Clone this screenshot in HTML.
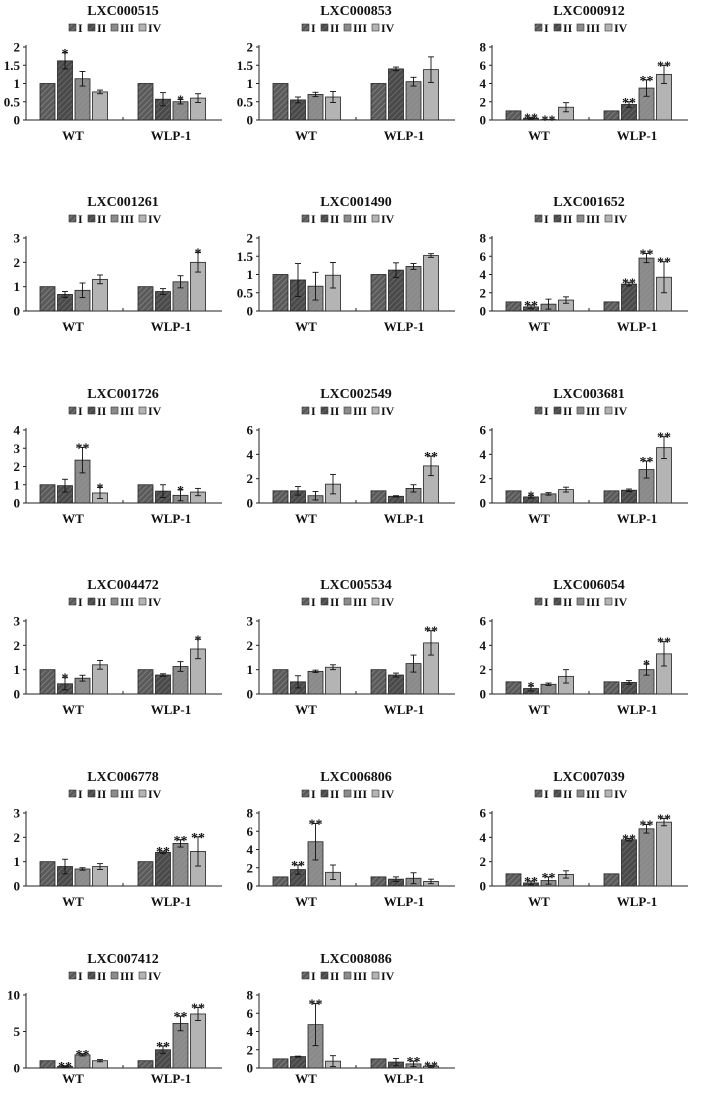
<!DOCTYPE html>
<html><head><meta charset="utf-8"><style>
body{margin:0;background:#fff;width:708px;height:1088px;overflow:hidden}
svg text{font-family:"Liberation Serif",serif;font-weight:bold;fill:#111}
</style></head><body>
<svg id="fig" width="708" height="1088" viewBox="0 0 708 1088">
<defs>
<pattern id="p1" width="4" height="4" patternUnits="userSpaceOnUse" patternTransform="rotate(45)"><rect width="4" height="4" fill="#5a5a5a"/><line x1="0" y1="0" x2="0" y2="4" stroke="#888" stroke-width="1.5"/></pattern>
<pattern id="p2" width="4" height="4" patternUnits="userSpaceOnUse" patternTransform="rotate(45)"><rect width="4" height="4" fill="#4a4a4a"/><line x1="0" y1="0" x2="0" y2="4" stroke="#777" stroke-width="1.2"/></pattern>
<pattern id="p3" width="4" height="4" patternUnits="userSpaceOnUse" patternTransform="rotate(45)"><rect width="4" height="4" fill="#8a8a8a"/><line x1="0" y1="0" x2="0" y2="4" stroke="#999" stroke-width="1"/></pattern>
</defs>
</svg>
<script>
const titles=["LXC000515","LXC000853","LXC000912","LXC001261","LXC001490","LXC001652","LXC001726","LXC002549","LXC003681","LXC004472","LXC005534","LXC006054","LXC006778","LXC006806","LXC007039","LXC007412","LXC008086"];
const yMax=[2,2,8,3,2,8,4,6,6,3,3,6,3,8,6,10,8];
const yStep=[0.5,0.5,2,1,0.5,2,1,2,2,1,1,2,1,2,2,5,2];
const wtVals=[[1,1.62,1.13,0.77],[1,0.55,0.7,0.63],[1,0.2,0.05,1.4],[1,0.68,0.85,1.3],[1,0.85,0.68,0.98],[1,0.45,0.75,1.2],[1,0.95,2.35,0.55],[1,1,0.6,1.55],[1,0.5,0.75,1.1],[1,0.42,0.65,1.2],[1,0.5,0.93,1.1],[1,0.45,0.8,1.45],[1,0.8,0.7,0.8],[1,1.8,4.85,1.5],[1,0.25,0.45,0.95],[1,0.2,1.8,1.0],[1,1.25,4.75,0.75]];
const wtErr=[[0,0.22,0.2,0.05],[0,0.08,0.06,0.15],[0,0.1,0,0.5],[0,0.12,0.3,0.18],[0,0.45,0.38,0.35],[0,0.2,0.55,0.35],[0,0.35,0.7,0.3],[0,0.35,0.35,0.8],[0,0.1,0.1,0.2],[0,0.25,0.12,0.18],[0,0.25,0.05,0.1],[0,0.2,0.1,0.55],[0,0.3,0.05,0.12],[0,0.5,2.0,0.8],[0,0.15,0.3,0.3],[0,0.1,0.15,0.15],[0,0.05,2.3,0.6]];
const wtStar=[["","*","",""],["","","",""],["","**","**",""],["","","",""],["","","",""],["","**","",""],["","","**","*"],["","","",""],["","*","",""],["","*","",""],["","","",""],["","*","",""],["","","",""],["","**","**",""],["","**","**",""],["","**","**",""],["","","**",""]];
const wlVals=[[1,0.57,0.5,0.6],[1,1.4,1.05,1.38],[1,1.7,3.5,5],[1,0.8,1.2,2.0],[1,1.12,1.22,1.52],[1,2.95,5.8,3.7],[1,0.65,0.42,0.6],[1,0.55,1.2,3.05],[1,1.05,2.75,4.55],[1,0.78,1.13,1.85],[1,0.78,1.25,2.1],[1,0.95,2.0,3.3],[1,1.38,1.75,1.42],[1,0.75,0.85,0.5],[1,3.8,4.7,5.25],[1,2.5,6.1,7.4],[1,0.65,0.45,0.2]];
const wlErr=[[0,0.18,0.06,0.12],[0,0.05,0.12,0.35],[0,0.3,0.9,1.0],[0,0.12,0.25,0.4],[0,0.2,0.08,0.05],[0,0.2,0.5,1.7],[0,0.35,0.3,0.2],[0,0.05,0.3,0.8],[0,0.1,0.7,0.9],[0,0.05,0.2,0.4],[0,0.08,0.35,0.5],[0,0.15,0.45,1.0],[0,0.05,0.15,0.6],[0,0.25,0.6,0.25],[0,0.1,0.35,0.3],[0,0.5,1.0,0.9],[0,0.4,0.3,0.1]];
const wlStar=[["","","*",""],["","","",""],["","**","**","**"],["","","","*"],["","","",""],["","**","**","**"],["","","*",""],["","","","**"],["","","**","**"],["","","","*"],["","","","**"],["","","*","**"],["","**","**","**"],["","","",""],["","**","**","**"],["","**","**","**"],["","","**","**"]];
const groups=["WT","WLP-1"];
const series=["I","II","III","IV"];
const fills=["url(#p1)","url(#p2)","url(#p3)","#b4b4b4"];
const rowY=[0,191,383,574,766,948];
const NS="http://www.w3.org/2000/svg";
const svg=document.getElementById('fig');
function mk(t,a,p){const e=document.createElementNS(NS,t);for(const k in a)e.setAttribute(k,a[k]);(p||svg).appendChild(e);return e;}
function s(k){return series[k].toLowerCase();}
titles.forEach((t,i)=>{
  const row=Math.floor(i/3);
  const ox=(i%3)*233, oy=rowY[row];
  const g=mk('g',{transform:`translate(${ox},${oy})`});
  
  
  const x0=26,x1=222,yb=120,h=73;
  const labOff=row===5?15:20;
  const ys=v=>yb-v/yMax[i]*h;
  const tt=mk('text',{x:123,y:15,'text-anchor':'middle','font-size':14},g);tt.textContent=t;
  
  
  series.forEach((sn,k)=>{
    const lx=[69,88,111,139][k];
    const lg=mk('g',{},g);
    
    
    mk('rect',{x:lx,y:24,width:7,height:7,fill:fills[k],stroke:'#333','stroke-width':0.6},lg);
    const lt=mk('text',{x:lx+9,y:32,'font-size':12},lg);lt.textContent=sn;
  });
  mk('line',{x1:x0,y1:yb-h-2,x2:x0,y2:yb,stroke:'#222','stroke-width':1},g);
  mk('line',{x1:x0,y1:yb,x2:x1,y2:yb,stroke:'#222','stroke-width':1},g);
  mk('line',{x1:123,y1:yb,x2:123,y2:yb-3,stroke:'#222','stroke-width':1},g);
  for(let v=0;v<=yMax[i]+1e-9;v+=yStep[i]){
    const y=ys(v);
    mk('line',{x1:x0-3,y1:y,x2:x0,y2:y,stroke:'#222'},g);
    const tl=mk('text',{x:x0-6,y:y+4.5,'text-anchor':'end','font-size':13},g);
    tl.textContent=String(+v.toFixed(1));
    
    
  }
  [[wtVals,wtErr,wtStar],[wlVals,wlErr,wlStar]].forEach((d,gi)=>{
    const gx=[40,138][gi];
    const cl=mk('text',{x:gx+33,y:yb+labOff,'text-anchor':'middle','font-size':13},g);cl.textContent=groups[gi];
    
    
    d[0][i].forEach((v,k)=>{
      const bx=gx+k*17.5, e=d[1][i][k];
      const r=mk('rect',{x:bx,y:ys(v),width:15,height:yb-ys(v),fill:fills[k],stroke:'#222','stroke-width':0.8},g);
      
      
      if(e>0){
        const cx=bx+7.5;
        mk('line',{x1:cx,y1:ys(v+e),x2:cx,y2:ys(Math.max(0,v-e)),stroke:'#111','stroke-width':0.9},g);
        mk('line',{x1:cx-3,y1:ys(v+e),x2:cx+3,y2:ys(v+e),stroke:'#111','stroke-width':0.9},g);
        mk('line',{x1:cx-3,y1:ys(Math.max(0,v-e)),x2:cx+3,y2:ys(Math.max(0,v-e)),stroke:'#111','stroke-width':0.9},g);
      }
      const st=d[2][i][k];
      if(st){const sy=ys(v+e)-2;const sl=mk('text',{x:bx+7.5,y:sy+7,'text-anchor':'middle','font-size':14},g);sl.textContent=st;
        
        }
    });
  });
});
</script>
</body></html>
